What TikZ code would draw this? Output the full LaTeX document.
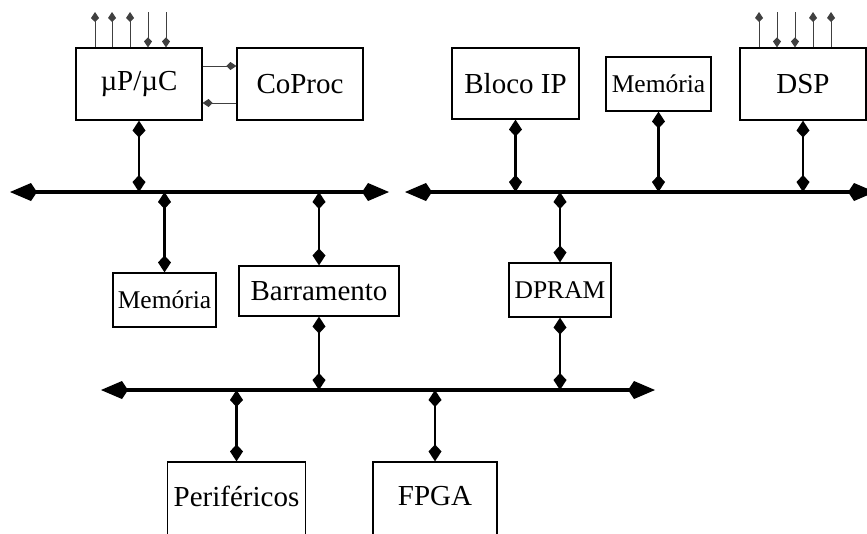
\documentclass[tikz,border=0pt]{standalone}
\usepackage{fontspec}
\setmainfont{Liberation Serif}
\usetikzlibrary{arrows.meta}
\begin{document}
\begin{tikzpicture}[x=1pt,y=-1pt,
  blk/.style={draw,line width=1.2pt,inner sep=0pt,font=\fontsize{29}{32}\selectfont},
  smallblk/.style={blk,font=\fontsize{25.5}{28}\selectfont},
  bus/.style={line width=3.5pt,{Kite[length=27pt,width=18pt,inset=6pt]}-{Kite[length=27pt,width=18pt,inset=6pt]}},
  link/.style={line width=2.2pt,{Kite[length=17pt,width=13pt,inset=7pt]}-{Kite[length=17pt,width=13pt,inset=7pt]}},
  sig/.style={line width=1pt,draw=black!75,-{Kite[length=10pt,width=8pt,inset=4pt]}}
]
\useasboundingbox (0,0) rectangle (867,533);
\clip (0,0) rectangle (867,533);
% boxes
\node[blk,minimum width=126pt,minimum height=72pt] (up) at (139,84) {µP/µC};
\node[blk,minimum width=126pt,minimum height=72pt] (cop) at (300,84) {CoProc};
\node[blk,minimum width=127pt,minimum height=71pt] (bip) at (515.5,83.5) {Bloco IP};
\node[smallblk,minimum width=105pt,minimum height=54pt] (mem1) at (658.5,84) {Memória};
\node[blk,minimum width=126pt,minimum height=72pt] (dsp) at (803,84) {DSP};
\node[smallblk,minimum width=103pt,minimum height=54pt] (mem2) at (164.5,300) {Memória};
\node[blk,minimum width=160pt,minimum height=50pt] (bar) at (319,291) {Barramento};
\node[smallblk,minimum width=102pt,minimum height=54pt] (dpr) at (560,290) {DPRAM};
\node[blk,minimum width=138pt,minimum height=78pt] (per) at (236.5,501) {\raisebox{10pt}{Periféricos}};
\node[blk,minimum width=124pt,minimum height=78pt] (fpga) at (435,501) {\raisebox{10pt}{FPGA}};
% bus end points
\coordinate (b1l) at (10,192);  \coordinate (b1r) at (389,192);
\coordinate (b2l) at (405,192); \coordinate (b2r) at (875,192);
\coordinate (b3l) at (101,390); \coordinate (b3r) at (655,390);
\draw[bus] (b1l) -- (b1r);
\draw[bus] (b2l) -- (b2r);
\draw[bus] (b3l) -- (b3r);
% bus links
\draw[link] (up.south) -- (up.south |- b1l);
\draw[link] (mem2.north |- b1l) -- (mem2.north);
\draw[link] (bar.north |- b1l) -- (bar.north);
\draw[link] (bip.south) -- (bip.south |- b2l);
\draw[link] (mem1.south) -- (mem1.south |- b2l);
\draw[link] (dsp.south) -- (dsp.south |- b2l);
\draw[link] (dpr.north |- b2l) -- (dpr.north);
\draw[link] (dpr.south) -- (dpr.south |- b3l);
\draw[link] (bar.south) -- (bar.south |- b3l);
\draw[link] (per.north |- b3l) -- (per.north);
\draw[link] (fpga.north |- b3l) -- (fpga.north);
% signal pins of uP/uC
\coordinate (p1) at (95,12);  \coordinate (p2) at (112,12); \coordinate (p3) at (130,12);
\coordinate (p4) at (148,12); \coordinate (p5) at (166,12);
\draw[sig] (up.north -| p1) -- (p1);
\draw[sig] (up.north -| p2) -- (p2);
\draw[sig] (up.north -| p3) -- (p3);
\draw[sig] (p4) -- (up.north -| p4);
\draw[sig] (p5) -- (up.north -| p5);
% signal pins of DSP
\coordinate (d1) at (759,12); \coordinate (d2) at (777,12); \coordinate (d3) at (795,12);
\coordinate (d4) at (813,12); \coordinate (d5) at (831,12);
\draw[sig] (dsp.north -| d1) -- (d1);
\draw[sig] (d2) -- (dsp.north -| d2);
\draw[sig] (d3) -- (dsp.north -| d3);
\draw[sig] (dsp.north -| d4) -- (d4);
\draw[sig] (dsp.north -| d5) -- (d5);
% uP <-> CoProc
\draw[sig] ([yshift=18pt]up.east) -- ([yshift=18pt]cop.west);
\draw[sig] ([yshift=-19pt]cop.west) -- ([yshift=-19pt]up.east);
\end{tikzpicture}
\end{document}
